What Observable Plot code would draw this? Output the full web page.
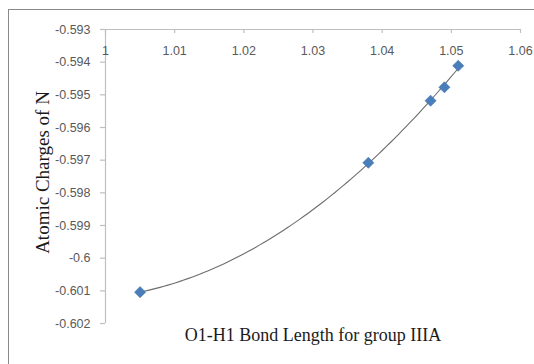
<!DOCTYPE html>
<html>
<head>
<meta charset="utf-8">
<script src="https://cdn.jsdelivr.net/npm/d3@7"></script>
<script src="https://cdn.jsdelivr.net/npm/@observablehq/plot@0.6"></script>
<style>
  html, body { margin: 0; padding: 0; background: #fff; }
  #wrap { position: relative; width: 534px; height: 364px; overflow: hidden; }
  #border { position: absolute; left: 8px; top: 9px; width: 600px; height: 600px;
            border-left: 1.5px solid #8a8a8a; border-top: 1.5px solid #8a8a8a; pointer-events: none; }
</style>
</head>
<body>
<div id="wrap"><div id="border"></div></div>
<script>
// Data
const bondLength = [1.005, 1.038, 1.047, 1.049, 1.051];
const atomicCharge = [-0.60104, -0.59708, -0.59518, -0.59477, -0.59411];
const xTicks = [1, 1.01, 1.02, 1.03, 1.04, 1.05, 1.06];
const yTicks = [-0.593, -0.594, -0.595, -0.596, -0.597, -0.598, -0.599, -0.6, -0.601, -0.602];
const xTitle = "O1-H1 Bond Length for group IIIA";
const yTitle = "Atomic Charges of N";

const points = bondLength.map((x, i) => ({x, y: atomicCharge[i]}));

// 2nd-order polynomial trendline (least squares) fitted to the points
function polyFit2(xs, ys) {
  const x0 = d3.mean(xs);
  const S = [0, 0, 0, 0, 0], T = [0, 0, 0];
  xs.forEach((xv, i) => {
    const u = xv - x0;
    for (let k = 0; k < 5; k++) S[k] += u ** k;
    for (let k = 0; k < 3; k++) T[k] += ys[i] * u ** k;
  });
  const A = [[S[0], S[1], S[2], T[0]], [S[1], S[2], S[3], T[1]], [S[2], S[3], S[4], T[2]]];
  for (let c = 0; c < 3; c++) {
    for (let r = c + 1; r < 3; r++) {
      const f = A[r][c] / A[c][c];
      for (let k = c; k < 4; k++) A[r][k] -= f * A[c][k];
    }
  }
  const b = [0, 0, 0];
  for (let r = 2; r >= 0; r--) {
    let s = A[r][3];
    for (let k = r + 1; k < 3; k++) s -= A[r][k] * b[k];
    b[r] = s / A[r][r];
  }
  return x => { const u = x - x0; return b[0] + b[1] * u + b[2] * u * u; };
}
const fit = polyFit2(bondLength, atomicCharge);
const [xMin, xMax] = d3.extent(bondLength);
const trend = d3.range(0, 81).map(i => {
  const x = xMin + (xMax - xMin) * i / 80;
  return {x, y: fit(x)};
});

const xDomain = [xTicks[0], xTicks[xTicks.length - 1]];
const yDomain = [yTicks[yTicks.length - 1], yTicks[0]];
const axisColor = "#bfbfbf";
const labelColor = "#595959";
const fmt = d => String(+d.toFixed(3));
const serif = "'Liberation Serif', 'Times New Roman', serif";

const chart = Plot.plot({
  width: 534,
  height: 364,
  marginLeft: 105,
  marginRight: 14,
  marginTop: 29,
  marginBottom: 41,
  style: {fontFamily: "'Liberation Sans', Arial, sans-serif", fontSize: "12.5px", background: "transparent"},
  x: {domain: xDomain, label: null},
  y: {domain: yDomain, label: null},
  marks: [
    // axis lines
    Plot.ruleY([yDomain[1]], {stroke: axisColor, strokeWidth: 1.2}),
    Plot.ruleX([xDomain[0]], {stroke: axisColor, strokeWidth: 1.2}),
    // x ticks (pointing down into the plot from the top axis line)
    Plot.ruleX(xTicks, {x: d => d, y1: yDomain[1], y2: yDomain[1], insetBottom: -4, stroke: axisColor, strokeWidth: 1.2}),
    Plot.axisX({anchor: "top", ticks: xTicks, tickSize: 0, tickPadding: -21, lineAnchor: "middle",
                tickFormat: fmt, fill: labelColor, label: null}),
    Plot.axisY({anchor: "left", ticks: yTicks, tickSize: 5, tickPadding: 10, tickFormat: fmt,
                stroke: axisColor, fill: labelColor, strokeWidth: 1.2, label: null}),
    // trendline
    Plot.line(trend, {x: "x", y: "y", stroke: "#6e6e6e", strokeWidth: 1.1, curve: "linear"}),
    // data points
    Plot.dot(points, {x: "x", y: "y", symbol: "diamond2", r: 5, fill: "#4a7ebb", stroke: "#3f6fa8", strokeWidth: 0.6}),
    // axis titles
    Plot.text([yTitle], {frameAnchor: "left", textAnchor: "middle", lineAnchor: "middle", dx: -63, dy: -4, rotate: -90,
                         fontSize: 19, fontFamily: serif, fill: "#1a1a1a"}),
    Plot.text([xTitle], {frameAnchor: "bottom", textAnchor: "middle", lineAnchor: "middle", dx: 0, dy: 12,
                         fontSize: 18, fontFamily: serif, fill: "#1a1a1a"})
  ]
});
document.getElementById("wrap").prepend(chart);
</script>
</body>
</html>
